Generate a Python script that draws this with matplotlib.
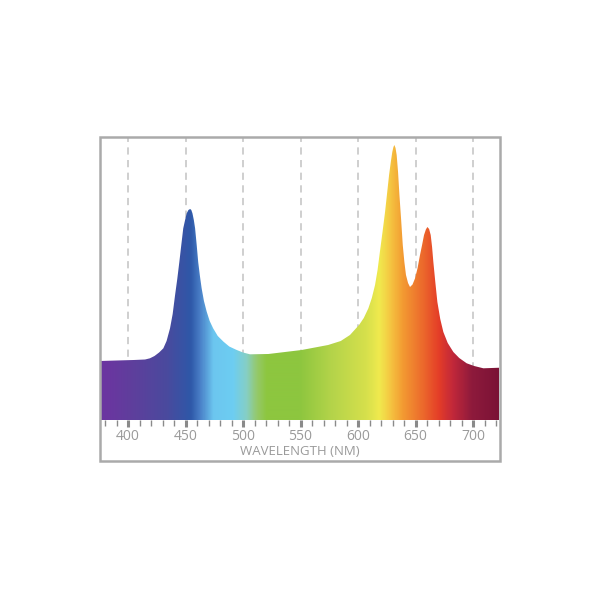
import numpy as np
import matplotlib
matplotlib.use("Agg")
import matplotlib.pyplot as plt
from matplotlib.colors import LinearSegmentedColormap
from matplotlib.patches import Rectangle, Polygon

# spectrum (wavelength nm, relative intensity)
wavelength = [375.6, 390, 405, 414.8, 419, 423, 427, 430.7, 433.5, 436.5, 438.8, 440.9,
              442.8, 444.6, 446.3, 448, 449.6, 451, 452.5, 454, 455, 456, 457.2, 458.3,
              459.7, 461, 462.5, 464, 466, 468.4, 471, 474, 478, 483, 488, 494.5,
              500, 506, 522, 551, 574, 585, 593, 600.9, 605, 609, 612, 614.8, 617,
              619, 621.3, 623.5, 625.3, 627, 628.5, 629.8, 630.8, 631.6, 632.6, 633.6,
              634.8, 636, 637.5, 638.9, 640.3, 641.7, 643.5, 645.2, 647.4, 649.6, 651.8,
              653.9, 655.7, 657.4, 659, 660.3, 661.8, 663.2, 664.4, 665.5, 667.2, 669,
              671.5, 674.2, 678, 682.9, 688, 694.5, 701, 709, 723.5]
intensity = [59, 59.5, 60, 60.5, 61.7, 64, 67.5, 71.7, 79, 91.7, 106, 125,
             141, 158, 175, 191.7, 200, 206.7, 210, 211, 210, 206.7, 200, 191.7,
             175, 158, 144, 131.7, 119, 108.3, 99, 91.7, 84, 78.3, 73.5, 70,
             67.5, 65.7, 66, 70, 75, 79, 85, 95, 102, 111.7, 122, 135, 150,
             168, 188, 208, 227, 245, 258, 268, 273, 275, 272, 265,
             248, 225, 200, 175, 158, 145, 137, 133, 135.5, 141.7, 152,
             165, 175, 185, 190.5, 193, 191, 185, 173, 158, 138, 118,
             101, 88, 77, 68, 62, 56.7, 54, 51.7, 52.3]

# spectrum colour stops (wavelength nm, colour)
stop_nm = [375.6, 382, 404, 433, 454, 462.6, 474, 491, 503, 512, 520.6, 549.6,
           578, 607.5, 619, 628, 639, 656.8, 671, 683, 700, 723.5]
stop_col = ["#6b35a0", "#6a36a0", "#5e3f9c", "#4a4a9e", "#2e58a8", "#4a80c8",
            "#6cc6ef", "#6dcdf2", "#86cfc4", "#95c96a", "#8dc63f", "#8dc63f",
            "#b5d44a", "#d6e04c", "#f0ea4e", "#f5c842", "#f39c32", "#ec6a2c",
            "#e43d28", "#c2283a", "#8e1a3c", "#7a1235"]

major_ticks = [400, 450, 500, 550, 600, 650, 700]

xmin, xmax = 375.6, 722.6
ymax = 283

fig = plt.figure(figsize=(6, 6), dpi=100)
ax = fig.add_axes([100 / 600, 180 / 600, 399 / 600, 283 / 600])
ax.set_xlim(xmin, xmax)
ax.set_ylim(0, ymax)

# dashed guide lines behind the spectrum
ax.vlines(major_ticks, 0, ymax, colors="#cccccc", linestyles=(0, (4, 3)),
          linewidth=1.3, zorder=1)

# gradient clipped to the spectrum shape
pos = [(w - xmin) / (stop_nm[-1] - xmin) for w in stop_nm]
cmap = LinearSegmentedColormap.from_list("spec", list(zip(pos, stop_col)))
grad = np.linspace(0, 1, 800).reshape(1, -1)
img = ax.imshow(grad, cmap=cmap, aspect="auto",
                extent=[xmin, stop_nm[-1], 0, ymax],
                origin="lower", zorder=2, interpolation="bilinear")
ax.set_xlim(xmin, xmax)
verts = [(xmin, 0)] + list(zip(wavelength, intensity)) + [(wavelength[-1], 0)]
poly = Polygon(verts, closed=True, facecolor="none", edgecolor="none",
               transform=ax.transData)
ax.add_patch(poly)
img.set_clip_path(poly)

for s in ax.spines.values():
    s.set_visible(False)
ax.set_yticks([])
ax.set_xticks(major_ticks)
ax.set_xticks(np.arange(380, 721, 10), minor=True)
ax.tick_params(axis="x", which="major", direction="out", length=5, width=2.2,
               color="#8a8a8a", labelsize=10, labelcolor="#9a9a9a", pad=1.5)
ax.tick_params(axis="x", which="minor", direction="out", length=4, width=1,
               color="#8a8a8a")
for lbl in ax.get_xticklabels():
    lbl.set_fontfamily("Open Sans")
ax.set_xlabel("WAVELENGTH (NM)", fontsize=9.5, color="#9a9a9a",
              fontfamily="Open Sans", labelpad=1)

# outer grey frame
fig.add_artist(Rectangle((100 / 600, 139 / 600), 400 / 600, 324 / 600,
                         transform=fig.transFigure, fill=False,
                         edgecolor="#aaaaaa", linewidth=1.8))

fig.savefig("out.png", dpi=100, facecolor="white")
